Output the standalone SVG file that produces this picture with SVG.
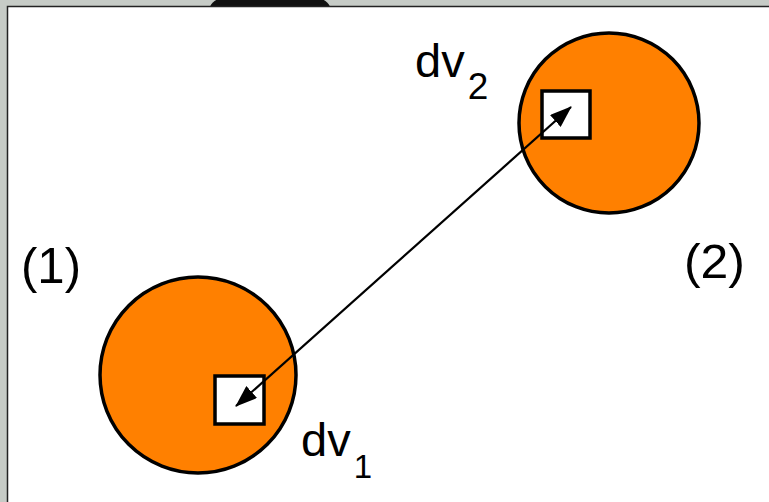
<svg xmlns="http://www.w3.org/2000/svg" width="769" height="502" viewBox="0 0 769 502">
  <style>
    .ball { fill: #ff8000; stroke: #000; stroke-width: 3.5; }
    .cell { fill: #fff; stroke: #000; stroke-width: 3.5; }
    .lbl { font-family: "Liberation Sans", Arial, sans-serif; fill: #000; }
    .conn { stroke: #000; stroke-width: 2.2; fill: none; }
  </style>
  <defs>
    <marker id="arrow" viewBox="0 0 22 16" refX="21" refY="8" markerWidth="22" markerHeight="16" markerUnits="userSpaceOnUse" orient="auto-start-reverse">
      <path d="M0,0 L22,8 L0,16 z" fill="#000"/>
    </marker>
  </defs>
  <!-- frame -->
  <rect x="0" y="0" width="769" height="502" fill="#c6cbc6"/>
  <ellipse cx="270" cy="8" rx="60" ry="18" fill="#111"/>
  <rect x="7" y="6" width="762" height="496" fill="#fff"/>
  <path d="M7.5,502 V6.5 H769" fill="none" stroke="#222" stroke-width="1.5"/>

  <g id="region1">
    <circle class="ball" cx="198" cy="375" r="98"/>
    <text class="lbl" x="21" y="283" font-size="50" textLength="60" lengthAdjust="spacingAndGlyphs">(1)</text>
  </g>
  <g id="region2">
    <circle class="ball" cx="609" cy="123" r="90"/>
    <text class="lbl" x="684" y="278" font-size="48" textLength="61" lengthAdjust="spacingAndGlyphs">(2)</text>
  </g>
  <g id="dv1">
    <rect class="cell" x="215" y="376" width="49" height="48"/>
    <text class="lbl" x="301" y="456" font-size="47">dv<tspan font-size="33" dx="3" dy="22">1</tspan></text>
  </g>
  <g id="dv2">
    <rect class="cell" x="542" y="91" width="48" height="47"/>
    <text class="lbl" x="415" y="77" font-size="47">dv<tspan font-size="37" dx="3" dy="22">2</tspan></text>
  </g>
  <g id="connectors">
    <line class="conn" x1="236" y1="406" x2="571" y2="107" marker-start="url(#arrow)" marker-end="url(#arrow)"/>
  </g>
</svg>
